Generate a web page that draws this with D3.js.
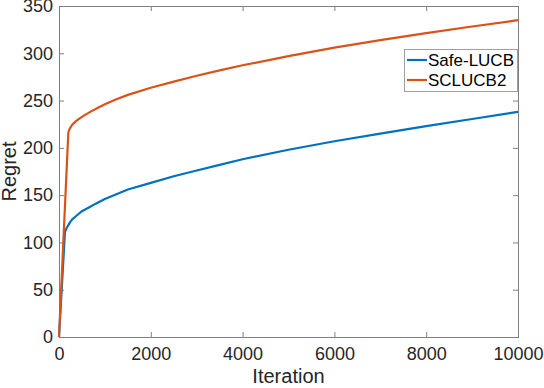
<!DOCTYPE html>
<meta charset="utf-8">
<head>
<script src="https://cdn.jsdelivr.net/npm/d3@7"></script>
</head>
<style type="text/css">
  body {
    margin: 0;
    font-family: "Liberation Sans", Arial, Helvetica, sans-serif;
    background: #fff;
  }
  .tick text {
    fill: #262626;
    font-size: 18px;
  }
  .label {
    fill: #262626;
    font-size: 20px;
  }
  .legend text {
    fill: #000;
    font-size: 17px;
  }
</style>
<body>
</body>
<script type="text/javascript">

var width = 544,
    height = 388;

var margin = {top: 6, right: 26, bottom: 51, left: 59};

// iteration, regret
var safeIter   = [0, 130, 150, 170, 200, 250, 300, 400, 500, 650, 800, 1000, 1250, 1500, 2000, 2500, 3000, 3500, 4000, 5000, 6000, 7000, 8000, 9000, 10000];
var safeRegret = [0, 111, 113.5, 115.5, 118, 122, 125, 129, 133, 137, 141, 146, 151, 156, 163, 170, 176, 182, 188, 198, 207, 215, 223, 230.5, 238];

var sclIter    = [0, 203, 215, 230, 255, 280, 320, 370, 450, 550, 700, 850, 1000, 1250, 1500, 2000, 2500, 3000, 3500, 4000, 5000, 6000, 7000, 8000, 9000, 10000];
var sclRegret  = [0, 216, 218, 219.8, 222, 223.8, 226, 228.3, 231.2, 234.3, 238.6, 242.5, 246, 251.3, 256, 263.5, 270, 276.3, 282, 287.3, 297, 306, 314, 321.3, 328.3, 335];

var seriesNames = ["Safe-LUCB", "SCLUCB2"];
var seriesColors = ["#0072BD", "#D95319"];

var xTicks = [0, 2000, 4000, 6000, 8000, 10000];
var yTicks = [0, 50, 100, 150, 200, 250, 300, 350];

var w = width - margin.left - margin.right,
    h = height - margin.top - margin.bottom;

var svg = d3.select("body").append("svg")
    .attr("width", width)
    .attr("height", height);

var g = svg.append("g")
    .attr("transform", "translate(" + margin.left + "," + margin.top + ")");

var x = d3.scaleLinear().domain([0, 10000]).range([0, w]);
var y = d3.scaleLinear().domain([0, 350]).range([h, 0]);

var tl = 5;

function styleAxis(sel) {
  sel.select(".domain").remove();
  sel.selectAll(".tick line").attr("stroke", "#808080");
}

g.append("g")
    .attr("transform", "translate(0," + h + ")")
    .call(d3.axisBottom(x).tickValues(xTicks).tickSizeInner(-tl).tickSizeOuter(0).tickPadding(10).tickFormat(d3.format("d")))
    .call(styleAxis);

g.append("g")
    .call(d3.axisTop(x).tickValues(xTicks).tickSizeInner(-tl).tickSizeOuter(0).tickFormat(""))
    .call(styleAxis);

g.append("g")
    .call(d3.axisLeft(y).tickValues(yTicks).tickSizeInner(-tl).tickSizeOuter(0).tickPadding(6))
    .call(styleAxis);

g.append("g")
    .attr("transform", "translate(" + w + ",0)")
    .call(d3.axisRight(y).tickValues(yTicks).tickSizeInner(-tl).tickSizeOuter(0).tickFormat(""))
    .call(styleAxis);

g.append("rect")
    .attr("x", 0.5)
    .attr("y", 0.5)
    .attr("width", w)
    .attr("height", h)
    .attr("fill", "none")
    .attr("stroke", "#808080")
    .attr("stroke-width", 1);

g.selectAll(".tick text").attr("font-family", null).attr("font-size", null);

var line = d3.line()
    .x(function(d) { return x(d[0]); })
    .y(function(d) { return y(d[1]); });

var series = [
  d3.zip(safeIter, safeRegret),
  d3.zip(sclIter, sclRegret)
];

g.selectAll(".series")
    .data(series)
  .enter().append("path")
    .attr("class", "series")
    .attr("d", line)
    .attr("fill", "none")
    .attr("stroke", function(d, i) { return seriesColors[i]; })
    .attr("stroke-width", 2.2)
    .attr("stroke-linejoin", "round");

svg.append("text")
    .attr("class", "label")
    .attr("x", margin.left + w / 2)
    .attr("y", 383)
    .attr("text-anchor", "middle")
    .text("Iteration");

svg.append("text")
    .attr("class", "label")
    .attr("transform", "translate(16," + (margin.top + h / 2) + ") rotate(-90)")
    .attr("text-anchor", "middle")
    .text("Regret");

// legend
var legend = svg.append("g").attr("class", "legend");

legend.append("rect")
    .attr("x", 404.5)
    .attr("y", 49.5)
    .attr("width", 113)
    .attr("height", 42)
    .attr("fill", "#fff")
    .attr("stroke", "#a0a0a0")
    .attr("stroke-width", 1);

var items = legend.selectAll(".item")
    .data(seriesNames)
  .enter().append("g")
    .attr("transform", function(d, i) { return "translate(407," + (60 + 20 * i) + ")"; });

items.append("line")
    .attr("x1", 0)
    .attr("x2", 20)
    .attr("stroke", function(d, i) { return seriesColors[i]; })
    .attr("stroke-width", 2.2);

items.append("text")
    .attr("x", 21)
    .attr("y", 6)
    .text(function(d) { return d; });

</script>
</html>
